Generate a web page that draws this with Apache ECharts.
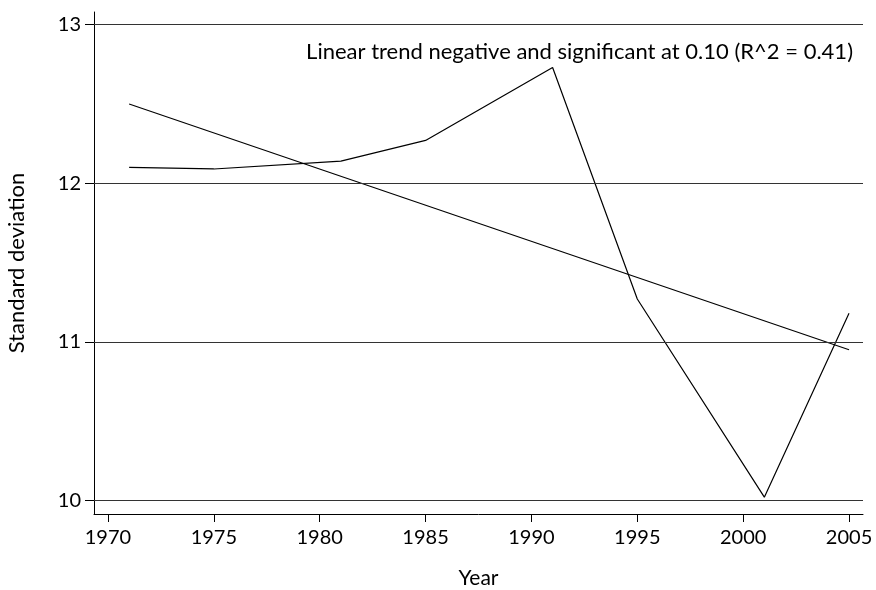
<!DOCTYPE html>
<html>
<head>
<meta charset="utf-8">
<script src="https://cdn.jsdelivr.net/npm/echarts@6/dist/echarts.min.js"></script>
<style>
  html, body { margin: 0; padding: 0; background: #fff; }
  #chart { width: 876px; height: 590px; }
</style>
</head>
<body>
<div id="chart"></div>
<script>
var years = [1971, 1975, 1981, 1985, 1991, 1995, 2001, 2005];
var sdValues = [12.10, 12.09, 12.14, 12.27, 12.73, 11.27, 10.02, 11.18];
var trendYears = [1971, 2005];
var trendValues = [12.50, 10.95];
var xTicks = [1970, 1975, 1980, 1985, 1990, 1995, 2000, 2005];
var yTicks = [10, 11, 12, 13];
var note = 'Linear trend negative and significant at 0.10 (R^2 = 0.41)';

var font = 'Lato';
var chart = echarts.init(document.getElementById('chart'));

chart.setOption({
    animation: false,
    title: {
        text: note,
        right: 18,
        top: 36,
        textStyle: { fontFamily: font, fontSize: 22, fontWeight: 'normal', color: '#000' }
    },
    grid: { left: 94, right: 13, top: 12, bottom: 76, outerBoundsMode: 'none' },
    xAxis: {
        type: 'value',
        min: 1969.34,
        max: 2005.66,
        name: 'Year',
        nameLocation: 'middle',
        nameGap: 54,
        nameTextStyle: { fontFamily: font, fontSize: 21, color: '#000' },
        axisLine: { lineStyle: { color: '#000', width: 1 } },
        axisTick: { customValues: xTicks, length: 8, lineStyle: { color: '#000' } },
        axisLabel: {
            customValues: xTicks, fontFamily: font, fontSize: 20, color: '#000', margin: 14,
            formatter: function (v) { return String(v); }
        },
        splitLine: { show: false }
    },
    yAxis: {
        type: 'value',
        min: 9.914,
        max: 13.08,
        name: 'Standard deviation',
        nameLocation: 'middle',
        nameGap: 66,
        nameTextStyle: { fontFamily: font, fontSize: 22, color: '#000' },
        axisLine: { show: true, lineStyle: { color: '#000', width: 1 } },
        axisTick: { show: true, customValues: yTicks, length: 9, lineStyle: { color: '#000' } },
        axisLabel: {
            customValues: yTicks, fontFamily: font, fontSize: 20, color: '#000', margin: 13,
            formatter: function (v) { return String(v); }
        },
        splitLine: { show: false }
    },
    series: [
        {
            type: 'line',
            data: years.map(function (y, i) { return [y, sdValues[i]]; }),
            symbol: 'none',
            lineStyle: { color: '#000', width: 1.2 },
            markLine: {
                silent: true,
                symbol: 'none',
                label: { show: false },
                lineStyle: { color: '#333', width: 1.2, type: 'solid' },
                data: yTicks.map(function (v) { return { yAxis: v }; })
            }
        },
        {
            type: 'line',
            data: trendYears.map(function (y, i) { return [y, trendValues[i]]; }),
            symbol: 'none',
            lineStyle: { color: '#000', width: 1.2 }
        }
    ]
});
</script>
</body>
</html>
